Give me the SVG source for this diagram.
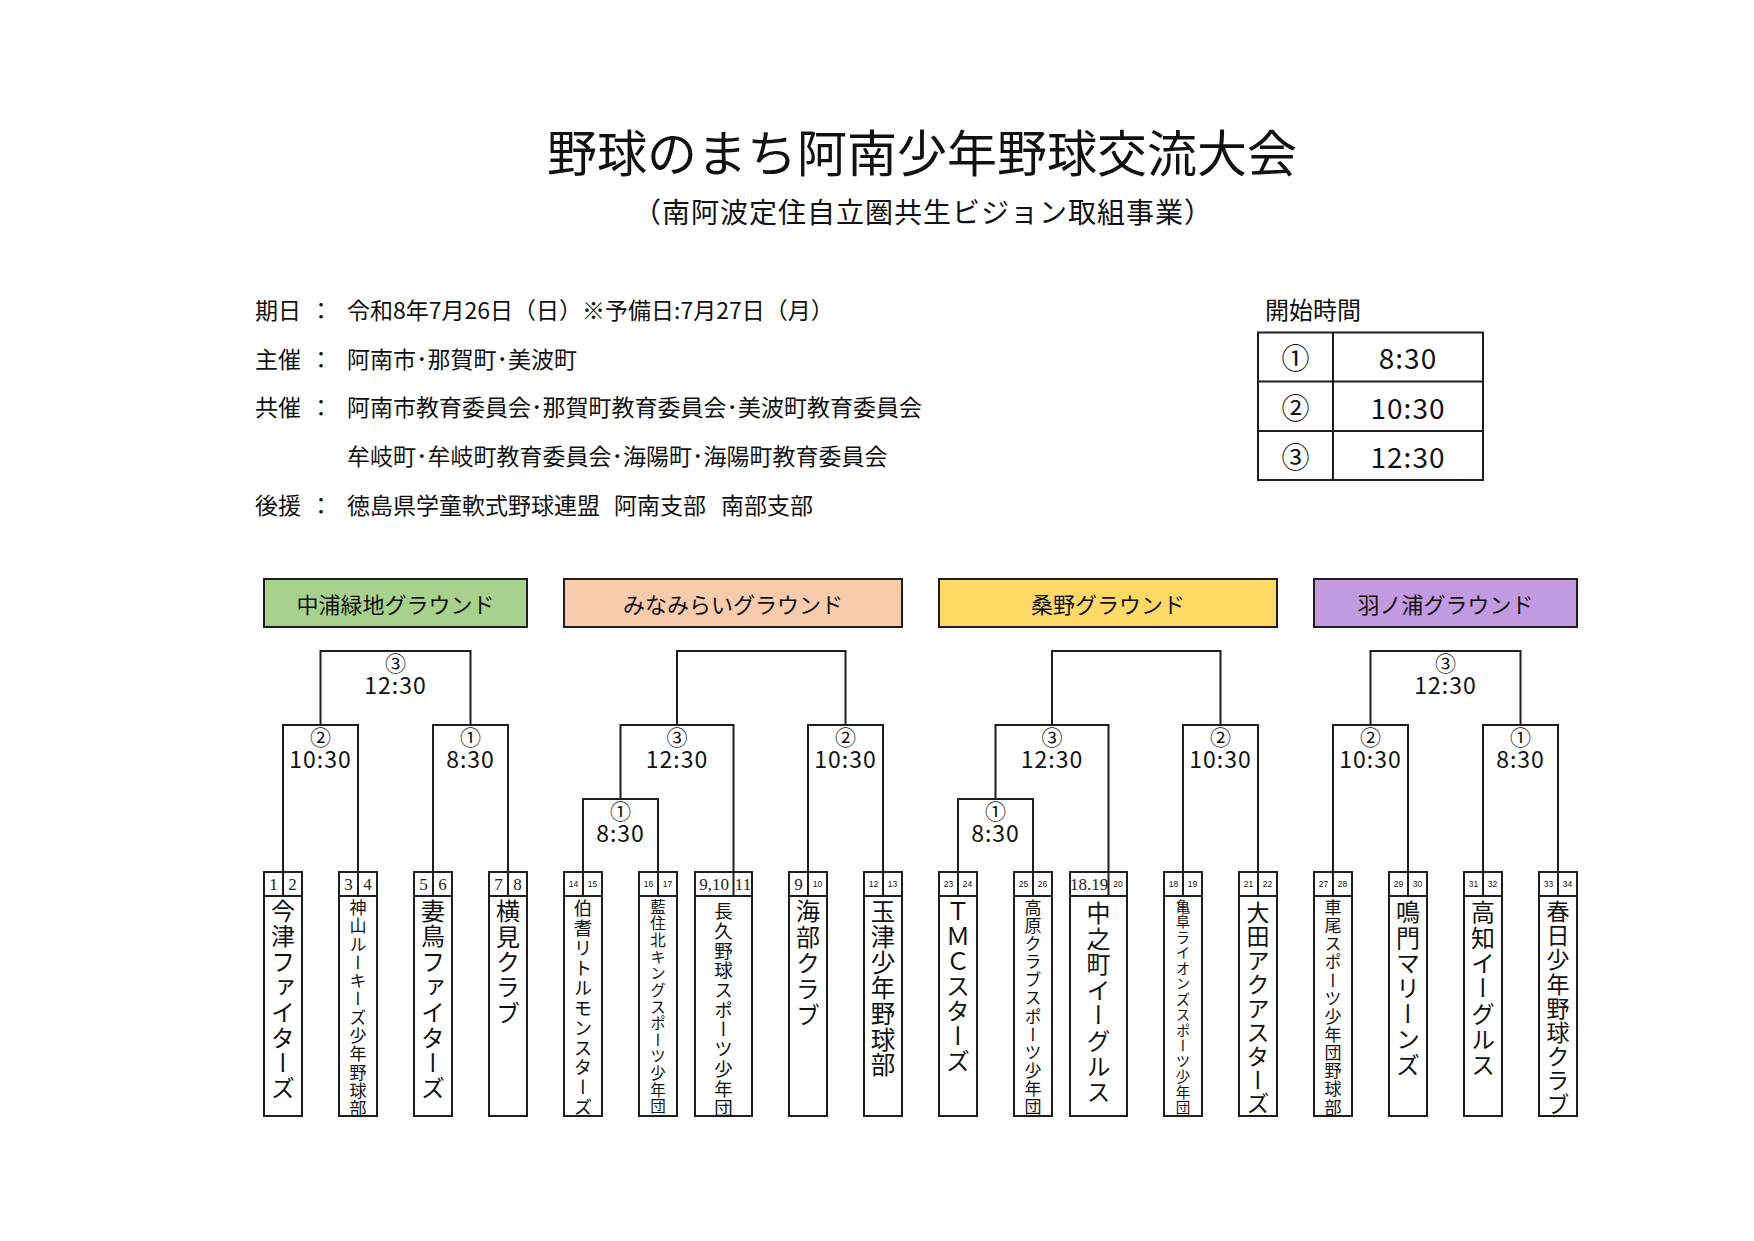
<svg xmlns="http://www.w3.org/2000/svg" width="1754" height="1241" viewBox="0 0 1754 1241">
<style>
.jp{font-family:"Noto Sans CJK JP","Noto Sans",sans-serif;fill:#111}
.c{text-anchor:middle;dominant-baseline:central}
.ln{fill:none;stroke:#1e1e1e;stroke-width:2}
.bx{fill:#fff;stroke:#1e1e1e;stroke-width:2}
.hd{stroke:#1e1e1e;stroke-width:2}
.v{writing-mode:vertical-rl;font-family:"Noto Sans CJK JP",sans-serif;fill:#111}
.ns{font-family:"Liberation Serif",serif;font-size:17px;fill:#222;text-anchor:middle;dominant-baseline:central}
.nt{font-family:"Liberation Sans",sans-serif;font-size:8.5px;fill:#111;text-anchor:middle;dominant-baseline:central}
.ci{font-size:21px}
.tm{font-size:23px;letter-spacing:1px}
.info{font-size:23px}
</style>
<rect width="1754" height="1241" fill="#fff"/>

<g id="title">
<text class="jp c" x="922" y="150" font-size="50">野球のまち阿南少年野球交流大会</text>
<text class="jp c" x="923" y="211" font-size="28" letter-spacing="1">（南阿波定住自立圏共生ビジョン取組事業）</text>
</g>

<g id="info" class="jp info">
<text x="255" y="309" dominant-baseline="central">期日</text>
<text x="321" y="309" dominant-baseline="central" text-anchor="middle">：</text>
<text x="347" y="309" dominant-baseline="central">令和8年7月26日（日）※予備日:7月27日（月）</text>
<text x="255" y="358" dominant-baseline="central">主催</text>
<text x="321" y="358" dominant-baseline="central" text-anchor="middle">：</text>
<text x="347" y="358" dominant-baseline="central">阿南市･那賀町･美波町</text>
<text x="255" y="406" dominant-baseline="central">共催</text>
<text x="321" y="406" dominant-baseline="central" text-anchor="middle">：</text>
<text x="347" y="406" dominant-baseline="central">阿南市教育委員会･那賀町教育委員会･美波町教育委員会</text>
<text x="347" y="455" dominant-baseline="central">牟岐町･牟岐町教育委員会･海陽町･海陽町教育委員会</text>
<text x="255" y="504" dominant-baseline="central">後援</text>
<text x="321" y="504" dominant-baseline="central" text-anchor="middle">：</text>
<text x="347" y="504" dominant-baseline="central">徳島県学童軟式野球連盟</text>
<text x="614" y="504" dominant-baseline="central">阿南支部</text>
<text x="721" y="504" dominant-baseline="central">南部支部</text>
</g>

<g id="schedule">
<text class="jp" x="1265" y="308" font-size="24" dominant-baseline="central">開始時間</text>
<rect x="1258" y="332.5" width="225" height="147.5" fill="#fff" stroke="#1e1e1e" stroke-width="2"/>
<path class="ln" d="M1333 332.5V480M1258 381.5H1483M1258 431H1483"/>
<text class="jp c" x="1295.5" y="357" font-size="28">①</text>
<text class="jp c" x="1295.5" y="406.5" font-size="28">②</text>
<text class="jp c" x="1295.5" y="456" font-size="28">③</text>
<text class="jp c" x="1408" y="357" font-size="28" letter-spacing="1">8:30</text>
<text class="jp c" x="1408" y="406.5" font-size="28" letter-spacing="1">10:30</text>
<text class="jp c" x="1408" y="456" font-size="28" letter-spacing="1">12:30</text>
</g>

<g id="ground-nakanoura">
<rect class="hd" x="264" y="579" width="263" height="48" fill="#A9D18E"/>
<text class="jp c" x="395.5" y="603" font-size="22">中浦緑地グラウンド</text>
</g>
<g id="ground-minamirai">
<rect class="hd" x="564" y="579" width="338" height="48" fill="#F8CBAD"/>
<text class="jp c" x="733" y="603" font-size="22">みなみらいグラウンド</text>
</g>
<g id="ground-kuwano">
<rect class="hd" x="939" y="579" width="338" height="48" fill="#FFD966"/>
<text class="jp c" x="1108" y="603" font-size="22">桑野グラウンド</text>
</g>
<g id="ground-hanoura">
<rect class="hd" x="1314" y="579" width="263" height="48" fill="#C29AE0"/>
<text class="jp c" x="1445.5" y="603" font-size="22">羽ノ浦グラウンド</text>
</g>

<g id="connectors" class="ln">
<path d="M283 872V725H358V872"/>
<path d="M433 872V725H508V872"/>
<path d="M320.5 725V651H470.5V725"/>
<path d="M583 872V799H658V872"/>
<path d="M620.5 799V725H733.5V872"/>
<path d="M808 872V725H883V872"/>
<path d="M677 725V651H845.5V725"/>
<path d="M958 872V799H1033V872"/>
<path d="M995.5 799V725H1108.5V872"/>
<path d="M1183 872V725H1258V872"/>
<path d="M1052 725V651H1220.5V725"/>
<path d="M1333 872V725H1408V872"/>
<path d="M1483 872V725H1558V872"/>
<path d="M1370.5 725V651H1520.5V725"/>
</g>

<g id="match-labels" class="jp">
<text class="c"><tspan class="ci" x="395.5" y="661.5">③</tspan><tspan class="tm" x="395.5" y="684">12:30</tspan></text>
<text class="c"><tspan class="ci" x="320.5" y="735.5">②</tspan><tspan class="tm" x="320.5" y="758">10:30</tspan></text>
<text class="c"><tspan class="ci" x="470.5" y="735.5">①</tspan><tspan class="tm" x="470.5" y="758">8:30</tspan></text>
<text class="c"><tspan class="ci" x="620.5" y="809.5">①</tspan><tspan class="tm" x="620.5" y="832">8:30</tspan></text>
<text class="c"><tspan class="ci" x="677" y="735.5">③</tspan><tspan class="tm" x="677" y="758">12:30</tspan></text>
<text class="c"><tspan class="ci" x="845.5" y="735.5">②</tspan><tspan class="tm" x="845.5" y="758">10:30</tspan></text>
<text class="c"><tspan class="ci" x="995.5" y="809.5">①</tspan><tspan class="tm" x="995.5" y="832">8:30</tspan></text>
<text class="c"><tspan class="ci" x="1052" y="735.5">③</tspan><tspan class="tm" x="1052" y="758">12:30</tspan></text>
<text class="c"><tspan class="ci" x="1220.5" y="735.5">②</tspan><tspan class="tm" x="1220.5" y="758">10:30</tspan></text>
<text class="c"><tspan class="ci" x="1445.5" y="661.5">③</tspan><tspan class="tm" x="1445.5" y="684">12:30</tspan></text>
<text class="c"><tspan class="ci" x="1370.5" y="735.5">②</tspan><tspan class="tm" x="1370.5" y="758">10:30</tspan></text>
<text class="c"><tspan class="ci" x="1520.5" y="735.5">①</tspan><tspan class="tm" x="1520.5" y="758">8:30</tspan></text>
</g>

<g id="team-imazu">
<rect class="bx" x="264" y="872" width="38" height="244"/><path class="ln" d="M264 896H302M283 872V896"/>
<text class="ns" x="273.5" y="884">1</text><text class="ns" x="292.5" y="884">2</text>
<text class="v" x="283" y="899" font-size="24" letter-spacing="1.3">今津ファイターズ</text>
</g>
<g id="team-kamiyama">
<rect class="bx" x="339" y="872" width="38" height="244"/><path class="ln" d="M339 896H377M358 872V896"/>
<text class="ns" x="348.5" y="884">3</text><text class="ns" x="367.5" y="884">4</text>
<text class="v" x="358" y="899" font-size="17" letter-spacing="1.3">神山ルーキーズ少年野球部</text>
</g>
<g id="team-mendori">
<rect class="bx" x="414" y="872" width="38" height="244"/><path class="ln" d="M414 896H452M433 872V896"/>
<text class="ns" x="423.5" y="884">5</text><text class="ns" x="442.5" y="884">6</text>
<text class="v" x="433" y="899" font-size="24" letter-spacing="1.3">妻鳥ファイターズ</text>
</g>
<g id="team-yokomi">
<rect class="bx" x="489" y="872" width="38" height="244"/><path class="ln" d="M489 896H527M508 872V896"/>
<text class="ns" x="498.5" y="884">7</text><text class="ns" x="517.5" y="884">8</text>
<text class="v" x="508" y="899" font-size="24" letter-spacing="1.4">横見クラブ</text>
</g>

<g id="team-houki">
<rect class="bx" x="564" y="872" width="38" height="244"/><path class="ln" d="M564 896H602M583 872V896"/>
<text class="nt" x="573.5" y="884">14</text><text class="nt" x="592.5" y="884">15</text>
<text class="v" x="583" y="899" font-size="18.5" letter-spacing="1.4">伯耆リトルモンスターズ</text>
</g>
<g id="team-aizumikita">
<rect class="bx" x="639" y="872" width="38" height="244"/><path class="ln" d="M639 896H677M658 872V896"/>
<text class="nt" x="648.5" y="884">16</text><text class="nt" x="667.5" y="884">17</text>
<text class="v" x="658" y="899" font-size="15.5" letter-spacing="1.15">藍住北キングスポーツ少年団</text>
</g>
<g id="team-nagahisa">
<rect class="bx" x="695" y="872" width="57" height="244"/><path class="ln" d="M695 896H752M733.5 872V896"/>
<text class="ns" x="714" y="884" font-size="15" fill="#555">9,10</text><text class="ns" x="743" y="884" font-size="11" fill="#555">11</text>
<text class="v" x="723.5" y="902" font-size="18.5" letter-spacing="1.2">長久野球スポーツ少年団</text>
</g>
<g id="team-kaifu">
<rect class="bx" x="789" y="872" width="38" height="244"/><path class="ln" d="M789 896H827M808 872V896"/>
<text class="ns" x="798.5" y="884" fill="#444">9</text><text class="nt" x="817.5" y="884">10</text>
<text class="v" x="808" y="899" font-size="24" letter-spacing="2">海部クラブ</text>
</g>
<g id="team-tamazu">
<rect class="bx" x="864" y="872" width="38" height="244"/><path class="ln" d="M864 896H902M883 872V896"/>
<text class="nt" x="873.5" y="884">12</text><text class="nt" x="892.5" y="884">13</text>
<text class="v" x="883" y="899" font-size="24.5" letter-spacing="1.1">玉津少年野球部</text>
</g>

<g id="team-tmc">
<rect class="bx" x="939" y="872" width="38" height="244"/><path class="ln" d="M939 896H977M958 872V896"/>
<text class="nt" x="948.5" y="884">23</text><text class="nt" x="967.5" y="884">24</text>
<text class="v" x="958" y="899" font-size="24" letter-spacing="1">ＴＭＣスターズ</text>
</g>
<g id="team-takahara">
<rect class="bx" x="1014" y="872" width="38" height="244"/><path class="ln" d="M1014 896H1052M1033 872V896"/>
<text class="nt" x="1023.5" y="884">25</text><text class="nt" x="1042.5" y="884">26</text>
<text class="v" x="1033" y="899" font-size="17" letter-spacing="1.1">高原クラブスポーツ少年団</text>
</g>
<g id="team-nakanocho">
<rect class="bx" x="1070" y="872" width="57" height="244"/><path class="ln" d="M1070 896H1127M1108.5 872V896"/>
<text class="ns" x="1089" y="884" font-size="13" fill="#666">18.19</text><text class="nt" x="1118" y="884">20</text>
<text class="v" x="1098.5" y="901" font-size="24" letter-spacing="1.5">中之町イーグルス</text>
</g>
<g id="team-kifu">
<rect class="bx" x="1164" y="872" width="38" height="244"/><path class="ln" d="M1164 896H1202M1183 872V896"/>
<text class="nt" x="1173.5" y="884">18</text><text class="nt" x="1192.5" y="884">19</text>
<text class="v" x="1183" y="899" font-size="14.5" letter-spacing="1">亀阜ライオンズスポーツ少年団</text>
</g>
<g id="team-ota">
<rect class="bx" x="1239" y="872" width="38" height="244"/><path class="ln" d="M1239 896H1277M1258 872V896"/>
<text class="nt" x="1248.5" y="884">21</text><text class="nt" x="1267.5" y="884">22</text>
<text class="v" x="1258" y="901" font-size="23" letter-spacing="0.9">大田アクアスターズ</text>
</g>

<g id="team-kuzumo">
<rect class="bx" x="1314" y="872" width="38" height="244"/><path class="ln" d="M1314 896H1352M1333 872V896"/>
<text class="nt" x="1323.5" y="884">27</text><text class="nt" x="1342.5" y="884">28</text>
<text class="v" x="1333" y="899" font-size="17" letter-spacing="1.15">車尾スポーツ少年団野球部</text>
</g>
<g id="team-naruto">
<rect class="bx" x="1389" y="872" width="38" height="244"/><path class="ln" d="M1389 896H1427M1408 872V896"/>
<text class="nt" x="1398.5" y="884">29</text><text class="nt" x="1417.5" y="884">30</text>
<text class="v" x="1408" y="900" font-size="24" letter-spacing="1.4">鳴門マリーンズ</text>
</g>
<g id="team-kochi">
<rect class="bx" x="1464" y="872" width="38" height="244"/><path class="ln" d="M1464 896H1502M1483 872V896"/>
<text class="nt" x="1473.5" y="884">31</text><text class="nt" x="1492.5" y="884">32</text>
<text class="v" x="1483" y="900" font-size="24" letter-spacing="1.4">高知イーグルス</text>
</g>
<g id="team-kasuga">
<rect class="bx" x="1539" y="872" width="38" height="244"/><path class="ln" d="M1539 896H1577M1558 872V896"/>
<text class="nt" x="1548.5" y="884">33</text><text class="nt" x="1567.5" y="884">34</text>
<text class="v" x="1558" y="900" font-size="23" letter-spacing="1.1">春日少年野球クラブ</text>
</g>
</svg>
